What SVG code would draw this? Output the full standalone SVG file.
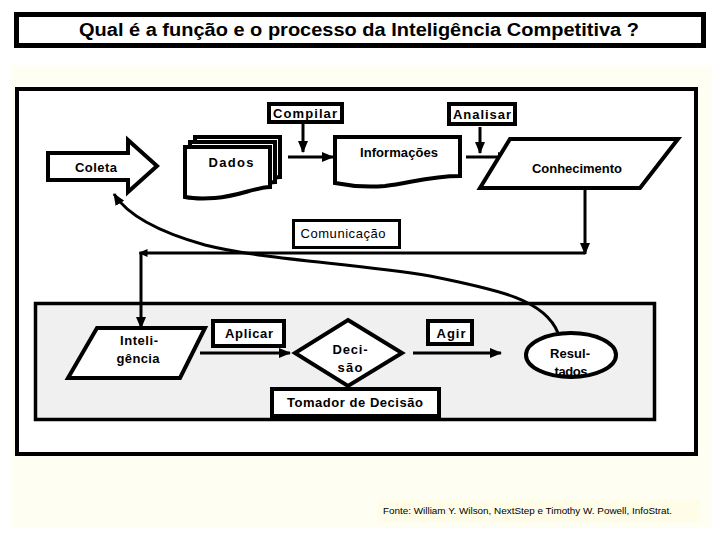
<svg xmlns="http://www.w3.org/2000/svg" width="720" height="540" viewBox="0 0 720 540">
<style>
.b{font-family:"Liberation Sans",Arial,sans-serif;font-weight:bold;font-size:13px;fill:#000;text-anchor:middle;dominant-baseline:central}
.r{font-family:"Liberation Sans",Arial,sans-serif;font-size:13px;fill:#000;text-anchor:middle;dominant-baseline:central}
.sh{fill:#fff;stroke:#000;stroke-width:4;stroke-linejoin:miter}
.ln{fill:none;stroke:#000;stroke-width:3}
</style>
<defs>
<marker id="ah" markerUnits="userSpaceOnUse" markerWidth="12" markerHeight="10" refX="11" refY="5" orient="auto">
<path d="M0,0 L12,5 L0,10 Z" fill="#000"/>
</marker>
<marker id="ahs" markerUnits="userSpaceOnUse" markerWidth="9" markerHeight="8" refX="8" refY="4" orient="auto">
<path d="M0,0 L9,4 L0,8 Z" fill="#000"/>
</marker>
</defs>
<rect x="0" y="0" width="720" height="540" fill="#fff"/>
<g id="title">
<rect x="16.5" y="14.5" width="687" height="31" fill="#fff" stroke="#000" stroke-width="5"/>
<text x="359" y="30" class="b" style="font-size:18px" textLength="560" lengthAdjust="spacingAndGlyphs">Qual é a função e o processo da Inteligência Competitiva ?</text>
</g>
<rect x="12" y="65" width="700" height="463" fill="#fffef3"/>
<g id="frame">
<rect x="17" y="89" width="679" height="365" fill="#fff" stroke="#000" stroke-width="4"/>
<rect x="35.5" y="303.5" width="619" height="116" fill="#f0f0f0" stroke="#000" stroke-width="3.5"/>
</g>
<g id="fonte">
<rect x="378" y="500" width="322" height="22" fill="#fffde8"/>
<text x="383" y="514" style="font-family:'Liberation Sans',Arial,sans-serif;font-size:9px" textLength="289" lengthAdjust="spacingAndGlyphs">Fonte:  William Y. Wilson, NextStep e Timothy W. Powell, InfoStrat.</text>
</g>
<g id="connectors">
<line class="ln" x1="303" y1="124" x2="303" y2="152" marker-end="url(#ah)"/>
<line class="ln" x1="288" y1="157" x2="333" y2="157" marker-end="url(#ah)"/>
<line class="ln" x1="480" y1="127" x2="480" y2="153" marker-end="url(#ah)"/>
<line class="ln" x1="466" y1="157" x2="509" y2="157" marker-end="url(#ah)"/>
<line class="ln" x1="585" y1="190" x2="585" y2="254" marker-end="url(#ah)"/>
<line class="ln" x1="585" y1="253" x2="139.5" y2="253" marker-end="url(#ahs)"/>
<line class="ln" x1="141" y1="252" x2="141" y2="328" marker-end="url(#ah)"/>
<line class="ln" x1="200" y1="353" x2="290" y2="353" marker-end="url(#ah)"/>
<line class="ln" x1="413" y1="353" x2="501" y2="353" marker-end="url(#ah)"/>
<path class="ln" d="M558,333 C545,300 500,290 430,276 C350,263 265,260 205,245 C155,231 126,213 114,194" marker-end="url(#ah)"/>
</g>
<g id="compilar">
<rect class="sh" x="269" y="104" width="73" height="18"/>
<text class="b" x="305" y="113" textLength="64" lengthAdjust="spacing">Compilar</text>
</g>
<g id="analisar">
<rect class="sh" x="449" y="104" width="66" height="20"/>
<text class="b" x="482" y="114" textLength="58" lengthAdjust="spacing">Analisar</text>
</g>
<g id="coleta">
<path class="sh" d="M48,153 H128 V140 L157,166 L128,192 V180 H48 Z"/>
<text class="b" x="96" y="167" textLength="42" lengthAdjust="spacing">Coleta</text>
</g>
<g id="dados">
<path class="sh" d="M195,137 H280 V177 C262,178 250,186 225,188 C210,189 200,188 195,187 Z"/>
<path class="sh" d="M190,142 H275 V182 C257,183 245,191 220,193 C205,194 195,193 190,192 Z"/>
<path class="sh" d="M185,147 H270 V187 C252,188 240,196 215,198 C200,199 190,198 185,197 Z"/>
<text class="b" x="231" y="162" textLength="45" lengthAdjust="spacing">Dados</text>
</g>
<g id="informacoes">
<path class="sh" d="M335,137 H460 V176 C430,176 410,183 385,186 C360,188 345,185 335,183 Z"/>
<text class="b" x="399" y="152" textLength="78" lengthAdjust="spacing">Informações</text>
</g>
<g id="conhecimento">
<path class="sh" d="M510,139 H678 L640,188 H480 Z"/>
<text class="r" x="577" y="168" textLength="90" lengthAdjust="spacing" style="font-weight:600">Conhecimento</text>
</g>
<g id="comunicacao">
<rect x="293.5" y="220.5" width="106" height="27" fill="#fff" stroke="#000" stroke-width="3"/>
<text class="r" x="343" y="233" textLength="85" lengthAdjust="spacing">Comunicação</text>
</g>
<g id="inteligencia">
<path class="sh" d="M97,328 H205 L180,378 H68 Z"/>
<text class="b" x="139" y="340" textLength="38" lengthAdjust="spacing">Inteli-</text>
<text class="b" x="138" y="358" textLength="43" lengthAdjust="spacing">gência</text>
</g>
<g id="aplicar">
<rect class="sh" x="213" y="321" width="71" height="25"/>
<text class="b" x="249" y="333" textLength="48" lengthAdjust="spacing">Aplicar</text>
</g>
<g id="decisao">
<path class="sh" d="M348,320 L402,353 L348,386 L295,353 Z"/>
<text class="b" x="350" y="349" textLength="35" lengthAdjust="spacing">Deci-</text>
<text class="b" x="350" y="367" textLength="25" lengthAdjust="spacing">são</text>
</g>
<g id="tomador">
<rect class="sh" x="272" y="389" width="167" height="27"/>
<text class="b" x="355" y="402" textLength="136" lengthAdjust="spacing">Tomador de Decisão</text>
</g>
<g id="agir">
<rect class="sh" x="428" y="321" width="44" height="23"/>
<text class="b" x="451" y="333" textLength="29" lengthAdjust="spacing">Agir</text>
</g>
<g id="resultados">
<ellipse class="sh" cx="571" cy="355" rx="45" ry="22"/>
<text class="b" x="570" y="353" textLength="40" lengthAdjust="spacing">Resul-</text>
<text class="b" x="571" y="371" textLength="33" lengthAdjust="spacing">tados</text>
</g>
</svg>
